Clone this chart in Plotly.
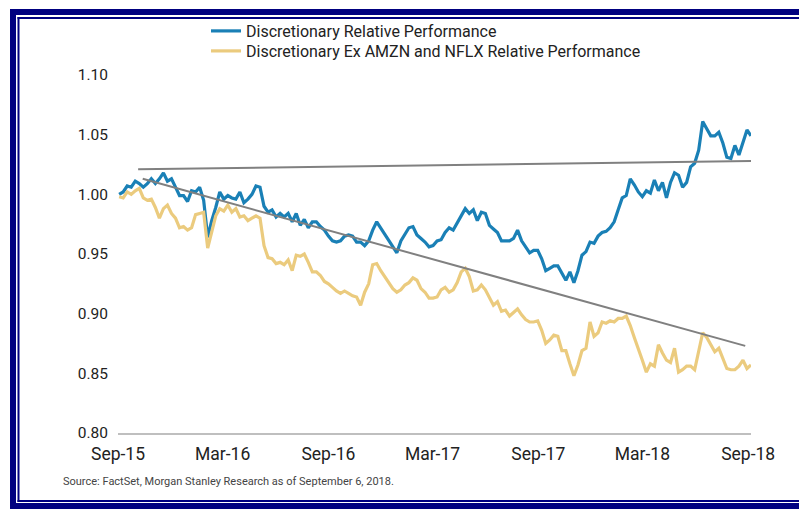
import plotly.graph_objects as go
import pandas as pd

# ---- data (weekly readings, Thursdays) ----
dates = pd.date_range("2015-09-03", periods=158, freq="7D")

disc_rel = [
    1.000, 1.002, 1.007, 1.006, 1.011, 1.009, 1.006, 1.009, 1.013, 1.009,
    1.013, 1.018, 1.011, 1.013, 1.006, 0.999, 0.999, 0.994, 1.003, 1.002,
    1.006, 0.995, 0.964, 0.978, 0.989, 1.002, 0.996, 0.999, 0.997, 0.996,
    1.002, 0.993, 0.996, 1.000, 1.007, 1.006, 0.990, 0.985, 0.987, 0.981,
    0.984, 0.981, 0.984, 0.977, 0.984, 0.974, 0.979, 0.972, 0.977, 0.977,
    0.973, 0.970, 0.965, 0.961, 0.960, 0.961, 0.965, 0.966, 0.965, 0.960,
    0.960, 0.957, 0.961, 0.970, 0.977, 0.972, 0.967, 0.961, 0.957, 0.951,
    0.961, 0.967, 0.972, 0.973, 0.966, 0.963, 0.960, 0.956, 0.957, 0.961,
    0.962, 0.968, 0.972, 0.970, 0.976, 0.982, 0.988, 0.984, 0.987, 0.978,
    0.985, 0.984, 0.974, 0.971, 0.968, 0.961, 0.961, 0.961, 0.963, 0.970,
    0.961, 0.956, 0.951, 0.953, 0.953, 0.946, 0.936, 0.938, 0.940, 0.940,
    0.934, 0.928, 0.935, 0.926, 0.936, 0.949, 0.952, 0.960, 0.959, 0.965,
    0.968, 0.969, 0.972, 0.977, 0.987, 0.997, 0.999, 1.013, 1.008, 1.002,
    0.998, 1.003, 1.001, 1.012, 1.003, 1.010, 0.997, 1.010, 1.018, 1.016,
    1.006, 1.010, 1.023, 1.026, 1.037, 1.061, 1.055, 1.049, 1.049, 1.052,
    1.043, 1.031, 1.030, 1.041, 1.033, 1.044, 1.054, 1.049,
]

disc_ex_rel = [
    0.998, 0.997, 1.002, 1.000, 1.003, 1.005, 0.997, 0.995, 0.996, 0.989,
    0.980, 0.988, 0.991, 0.984, 0.980, 0.972, 0.973, 0.970, 0.972, 0.983,
    0.984, 0.985, 0.955, 0.970, 0.982, 0.988, 0.986, 0.991, 0.985, 0.988,
    0.981, 0.982, 0.978, 0.980, 0.982, 0.980, 0.957, 0.947, 0.946, 0.942,
    0.943, 0.941, 0.945, 0.936, 0.949, 0.948, 0.950, 0.943, 0.935, 0.935,
    0.932, 0.927, 0.925, 0.922, 0.919, 0.917, 0.919, 0.917, 0.915, 0.914,
    0.907, 0.918, 0.925, 0.941, 0.942, 0.936, 0.931, 0.926, 0.921, 0.918,
    0.920, 0.924, 0.926, 0.930, 0.928, 0.921, 0.918, 0.913, 0.913, 0.914,
    0.920, 0.922, 0.918, 0.920, 0.926, 0.935, 0.938, 0.931, 0.919, 0.920,
    0.924, 0.920, 0.913, 0.907, 0.910, 0.902, 0.903, 0.898, 0.901, 0.904,
    0.899, 0.895, 0.893, 0.893, 0.894, 0.886, 0.875, 0.878, 0.882, 0.881,
    0.869, 0.869, 0.858, 0.848, 0.857, 0.869, 0.871, 0.893, 0.881, 0.884,
    0.893, 0.892, 0.894, 0.893, 0.896, 0.896, 0.898, 0.890, 0.880, 0.871,
    0.861, 0.851, 0.858, 0.856, 0.874, 0.867, 0.861, 0.859, 0.871, 0.851,
    0.853, 0.856, 0.856, 0.853, 0.869, 0.884, 0.880, 0.874, 0.868, 0.871,
    0.863, 0.854, 0.853, 0.853, 0.856, 0.861, 0.854, 0.857,
]

trend_top_dates = ["2015-10-06", "2018-09-06"]
trend_top_vals = [1.021, 1.028]
trend_bot_dates = ["2015-10-14", "2018-08-27"]
trend_bot_vals = [1.013, 0.873]

tick_dates = ["2015-09-01", "2016-03-01", "2016-09-01", "2017-03-01",
              "2017-09-01", "2018-03-01", "2018-09-01"]
tick_labels = ["Sep-15", "Mar-16", "Sep-16", "Mar-17", "Sep-17", "Mar-18", "Sep-18"]
y_ticks = [0.80, 0.85, 0.90, 0.95, 1.00, 1.05, 1.10]

series_names = ["Discretionary Relative Performance",
                "Discretionary Ex AMZN and NFLX Relative Performance"]

BLUE = "#1A80B6"
GOLD = "#EBCB7E"
GREY = "#808080"
NAVY = "#000080"

# page offset (body margin) compensation
OFF = 8
W, H = 807, 510
PLOT_L, PLOT_R, PLOT_T, PLOT_B = 118, 751, 75, 433  # target screen px
ML = PLOT_L - OFF
MT = PLOT_T - OFF
MR = W - (PLOT_R - OFF)
MB = H - (PLOT_B - OFF)
PW = PLOT_R - PLOT_L
PH = PLOT_B - PLOT_T

def px(x):
    return (x - PLOT_L) / PW

def py(y):
    return (PLOT_B - y) / PH

fig = go.Figure()
fig.add_trace(go.Scatter(x=dates, y=disc_rel, mode="lines", name=series_names[0],
                         line=dict(color=BLUE, width=3.2), legend="legend"))
fig.add_trace(go.Scatter(x=dates, y=disc_ex_rel, mode="lines", name=series_names[1],
                         line=dict(color=GOLD, width=3.2), legend="legend2"))
fig.add_trace(go.Scatter(x=trend_top_dates, y=trend_top_vals, mode="lines",
                         showlegend=False, line=dict(color=GREY, width=2)))
fig.add_trace(go.Scatter(x=trend_bot_dates, y=trend_bot_vals, mode="lines",
                         showlegend=False, line=dict(color=GREY, width=2)))

shapes = []
def rect(x0, y0, x1, y1):
    shapes.append(dict(type="rect", xref="paper", yref="paper",
                       x0=px(x0), x1=px(x1), y0=py(y1), y1=py(y0),
                       fillcolor=NAVY, line=dict(width=0), layer="above"))

rect(10, 9, 16, 509)      # left thick
rect(17.5, 17, 19.5, 502) # left thin
rect(10, 9, 840, 15)      # top thick
rect(17.5, 17, 840, 19)   # top thin
rect(17.5, 500, 840, 502) # bottom thin
rect(10, 503, 840, 509)   # bottom thick

leg_common = dict(xanchor="left", yanchor="top",
                  font=dict(size=16, color="#222222"), bgcolor="rgba(0,0,0,0)")

fig.update_layout(
    width=W, height=H,
    margin=dict(l=ML, r=MR, t=MT, b=MB, autoexpand=False),
    paper_bgcolor="white", plot_bgcolor="white",
    font=dict(family="Roboto", color="#222222"),
    showlegend=True,
    legend=dict(x=px(206), y=py(14), **leg_common),
    legend2=dict(x=px(206), y=py(34), **leg_common),
    xaxis=dict(type="date", range=["2015-09-01", "2018-09-06"],
               tickvals=tick_dates, ticktext=tick_labels,
               showgrid=False, zeroline=False, showline=True,
               linecolor="#BFBFBF", linewidth=1.5, ticks="",
               tickfont=dict(size=17.5, color="#222222"), ticklabelstandoff=4),
    yaxis=dict(range=[0.80, 1.10], tickvals=y_ticks, tickformat=".2f",
               showgrid=False, zeroline=False, showline=False, ticks="",
               tickfont=dict(size=15.5, color="#222222"), ticklabelstandoff=9),
    shapes=shapes,
    annotations=[dict(text="Source: FactSet, Morgan Stanley Research as of September 6, 2018.",
                      xref="paper", yref="paper", x=px(61), y=py(482),
                      xanchor="left", yanchor="middle", showarrow=False,
                      font=dict(size=11, color="#444444"))],
)

fig.write_html("out.html")
